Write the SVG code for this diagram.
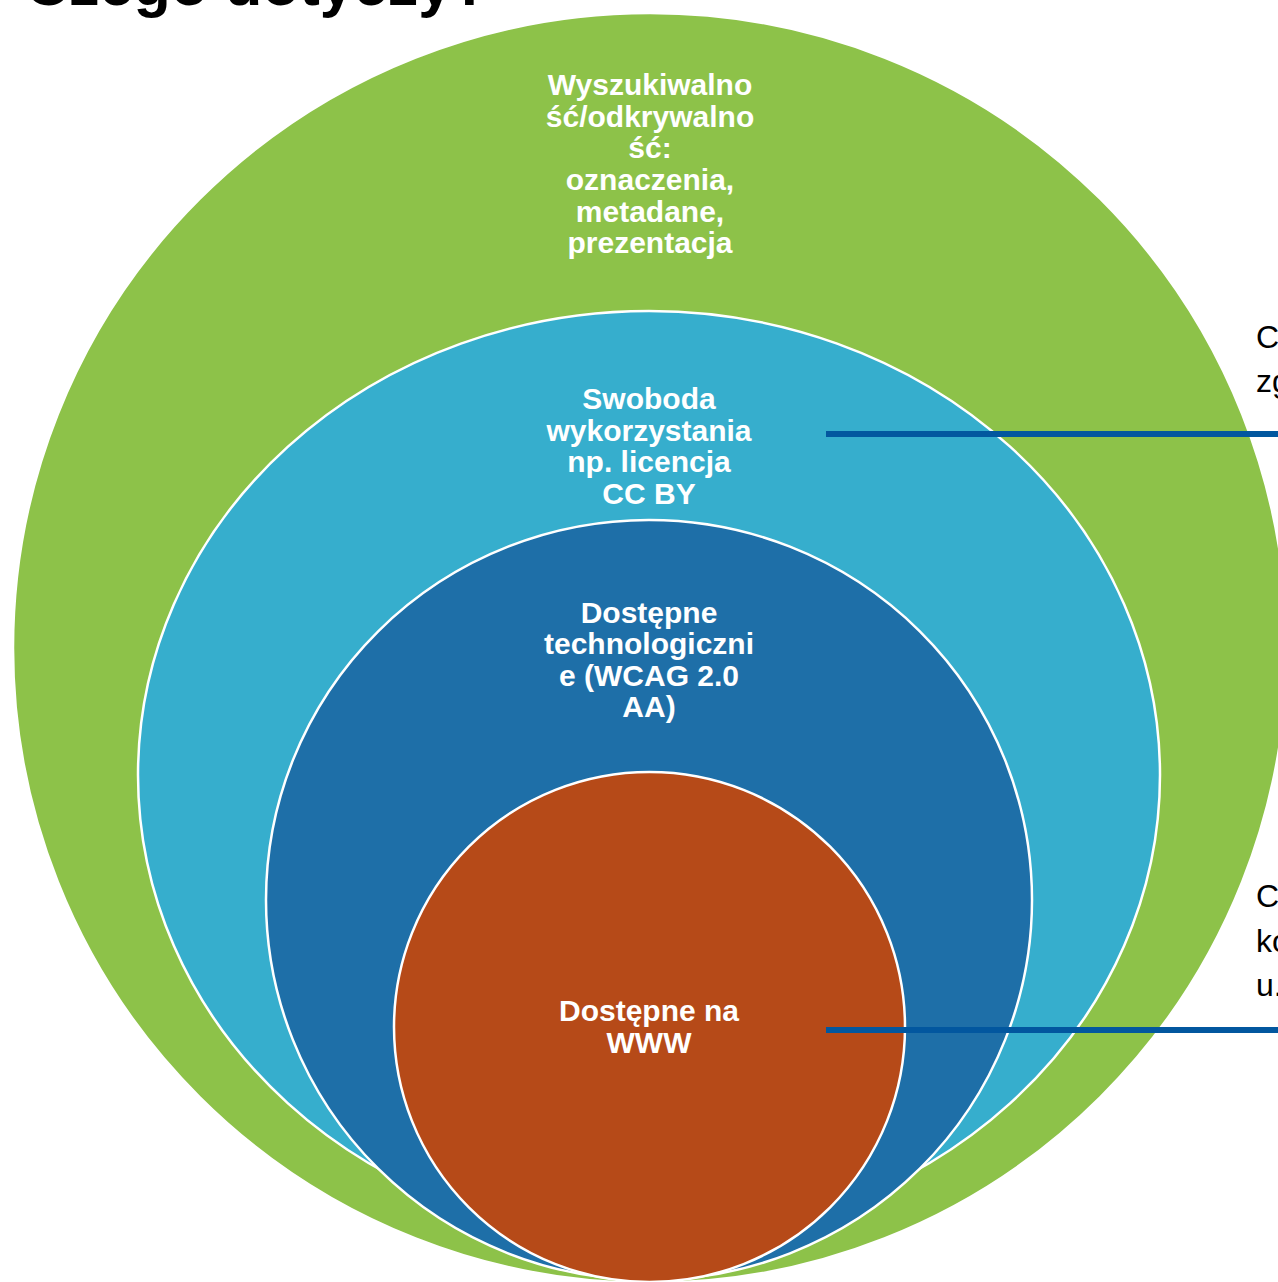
<svg xmlns="http://www.w3.org/2000/svg" width="1278" height="1282" viewBox="0 0 1278 1282">
<style>
.ring{stroke:#ffffff;stroke-width:2.5}
.lbl{font-family:"Liberation Sans",Arial,sans-serif;font-weight:bold;font-size:30px;fill:#ffffff;text-anchor:middle}
.side{font-family:"Liberation Sans",Arial,sans-serif;font-size:32px;fill:#000000}
.title{font-family:"Liberation Sans",Arial,sans-serif;font-weight:bold;font-size:61px;fill:#000000}
.conn{stroke:#02579f;stroke-width:6;fill:none}
</style>
<rect width="1278" height="1282" fill="#ffffff"/>
<text class="title" x="25" y="5">Czego dotyczy?</text>
<g id="n-wyszukiwalnosc">
<ellipse class="ring" cx="650" cy="648" rx="637" ry="635" fill="#8dc249"/>
<text class="lbl"><tspan x="650" y="95">Wyszukiwalno</tspan><tspan x="650" y="127">ść/odkrywalno</tspan><tspan x="650" y="158">ść:</tspan><tspan x="650" y="190">oznaczenia,</tspan><tspan x="650" y="222">metadane,</tspan><tspan x="650" y="253">prezentacja</tspan></text>
</g>
<g id="n-swoboda">
<ellipse class="ring" cx="649" cy="775" rx="511" ry="464" fill="#36aecd"/>
<text class="lbl"><tspan x="649" y="409">Swoboda</tspan><tspan x="649" y="441">wykorzystania</tspan><tspan x="649" y="472">np. licencja</tspan><tspan x="649" y="504">CC BY</tspan></text>
</g>
<g id="n-dostepne-tech">
<ellipse class="ring" cx="649" cy="900" rx="383" ry="380" fill="#1e6fa8"/>
<text class="lbl"><tspan x="649" y="623">Dostępne</tspan><tspan x="649" y="654">technologiczni</tspan><tspan x="649" y="686">e (WCAG 2.0</tspan><tspan x="649" y="717">AA)</tspan></text>
</g>
<g id="n-dostepne-www">
<ellipse class="ring" cx="649.5" cy="1027" rx="255.5" ry="255" fill="#b64a18"/>
<text class="lbl"><tspan x="649" y="1021">Dostępne na</tspan><tspan x="649" y="1053">WWW</tspan></text>
</g>
<g id="connectors">
<line class="conn" x1="826" y1="434" x2="1278" y2="434"/>
<line class="conn" x1="826" y1="1030" x2="1278" y2="1030"/>
</g>
<g id="side-notes">
<text class="side"><tspan x="1256" y="348">C</tspan><tspan x="1256" y="392">zg</tspan></text>
<text class="side"><tspan x="1256" y="907">C</tspan><tspan x="1256" y="952">ko</tspan><tspan x="1256" y="996">u.</tspan></text>
</g>
</svg>
